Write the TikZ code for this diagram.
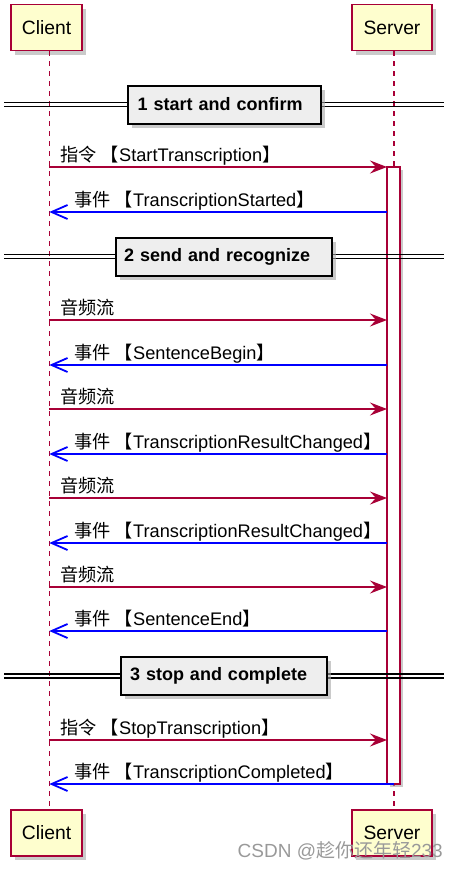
\documentclass[tikz,border=0pt]{standalone}
\usepackage{fontspec}
\setmainfont{Liberation Sans}
\newfontfamily\cjk{Noto Sans CJK SC}
\usetikzlibrary{arrows.meta,shadows}
\definecolor{pu}{HTML}{A80036}
\definecolor{pfill}{HTML}{FEFECE}
\definecolor{sepfill}{HTML}{EEEEEE}
\tikzset{
  part/.style={draw=pu, line width=1.4pt, fill=pfill, minimum height=46pt, inner sep=0pt,
    font=\fontsize{19.3}{22}\selectfont,
    drop shadow={shadow xshift=4pt, shadow yshift=-4pt, fill=black!35, opacity=.6}},
  lifeline/.style={draw=pu, line width=1.1pt, dash pattern=on 5pt off 5pt},
  actbox/.style={draw=pu, line width=1.1pt, fill=white, inner sep=0pt, minimum width=13pt,
    drop shadow={shadow xshift=3pt, shadow yshift=-3pt, fill=black!35, opacity=.6}},
  sepline/.style={draw=black, line width=1.2pt},
  sepbox/.style={draw=black, line width=2pt, fill=sepfill, minimum height=38pt, inner ysep=0pt,
    align=left, font=\fontsize{18}{20}\selectfont\bfseries,
    drop shadow={shadow xshift=4pt, shadow yshift=-4pt, fill=black!35, opacity=.6}},
  fwd/.style={draw=pu, line width=1.1pt, -{Stealth[length=17pt,width=13pt,inset=6pt]}},
  ret/.style={draw=blue, line width=1.1pt, -{Straight Barb[length=16pt,width=14pt,line width=1.8pt]}},
  lbl/.style={anchor=base west, inner sep=0pt, font=\fontsize{18.2}{20}\selectfont},
}
\begin{document}
\begin{tikzpicture}[x=1pt,y=-1pt]
\useasboundingbox (0,0) rectangle (459,870);

% lifeline x positions
\coordinate (cl) at (49.3,0);
\coordinate (sl) at (394,0);

% participants
\node[part, minimum width=71pt] (cTop) at (46.5,27.5) {Client};
\node[part, minimum width=80pt] (sTop) at (392,27.5) {Server};
\node[part, minimum width=71pt] (cBot) at (46.5,833) {Client};
\node[part, minimum width=80pt] (sBot) at (392,833) {Server};

% lifelines
\draw[lifeline] (cTop.south -| cl) -- (cBot.north -| cl);
\draw[lifeline] (sTop.south -| sl) -- (sBot.north -| sl);

% activation bar
\node[actbox, minimum height=617pt] (act) at (393.5,475.5) {};

% separators
\draw[sepline] (4,102.5) -- (444,102.5);
\draw[sepline] (4,106.5) -- (444,106.5);
\node[sepbox, text width=173pt, inner xsep=10pt] (sep1) at (224,104.5) {1 start and confirm};

\draw[sepline] (4,254.5) -- (444,254.5);
\draw[sepline] (4,258.5) -- (444,258.5);
\node[sepbox, text width=200pt, inner xsep=8pt] (sep2) at (224,256.5) {2 send and recognize};

\draw[sepline] (4,674) -- (444,674);
\draw[sepline] (4,678) -- (444,678);
\node[sepbox, text width=188pt, inner xsep=9pt] (sep3) at (224,676) {3 stop and complete};

% message end points
\foreach \n/\y in {1/167,2/212,3/320,4/365,5/409,6/454,7/498,8/543,9/587,10/631,11/740}{
  \coordinate (c\n) at (49.3,\y);
  \coordinate (s\n) at (387,\y);
}
\coordinate (c12) at (49.3,784);
\coordinate (s12) at (394,784);

% messages
\draw[fwd] (c1) -- (s1);
\node[lbl] (m1) at ([shift={(11,-5.5)}]c1) {{\cjk 指令 【}StartTranscription{\cjk 】}};
\draw[ret] (s2) -- (c2);
\node[lbl] (m2) at ([shift={(25,-6)}]c2) {{\cjk 事件 【}TranscriptionStarted{\cjk 】}};

\draw[fwd] (c3) -- (s3);
\node[lbl] (m3) at ([shift={(11,-5.5)}]c3) {{\cjk 音频流}};
\draw[ret] (s4) -- (c4);
\node[lbl] (m4) at ([shift={(25,-6)}]c4) {{\cjk 事件 【}SentenceBegin{\cjk 】}};

\draw[fwd] (c5) -- (s5);
\node[lbl] (m5) at ([shift={(11,-5.5)}]c5) {{\cjk 音频流}};
\draw[ret] (s6) -- (c6);
\node[lbl] (m6) at ([shift={(25,-6)}]c6) {{\cjk 事件 【}TranscriptionResultChanged{\cjk 】}};

\draw[fwd] (c7) -- (s7);
\node[lbl] (m7) at ([shift={(11,-5.5)}]c7) {{\cjk 音频流}};
\draw[ret] (s8) -- (c8);
\node[lbl] (m8) at ([shift={(25,-6)}]c8) {{\cjk 事件 【}TranscriptionResultChanged{\cjk 】}};

\draw[fwd] (c9) -- (s9);
\node[lbl] (m9) at ([shift={(11,-5.5)}]c9) {{\cjk 音频流}};
\draw[ret] (s10) -- (c10);
\node[lbl] (m10) at ([shift={(25,-6)}]c10) {{\cjk 事件 【}SentenceEnd{\cjk 】}};

\draw[fwd] (c11) -- (s11);
\node[lbl] (m11) at ([shift={(11,-5.5)}]c11) {{\cjk 指令 【}StopTranscription{\cjk 】}};
\draw[ret] (s12) -- (c12);
\node[lbl] (m12) at ([shift={(25,-6)}]c12) {{\cjk 事件 【}TranscriptionCompleted{\cjk 】}};

% watermark
\node[anchor=base east, inner sep=0pt, text=black!40, font=\fontsize{19}{22}\selectfont] (wm) at (443,857) {CSDN @{\cjk 趁你还年轻}233};
\end{tikzpicture}
\end{document}
